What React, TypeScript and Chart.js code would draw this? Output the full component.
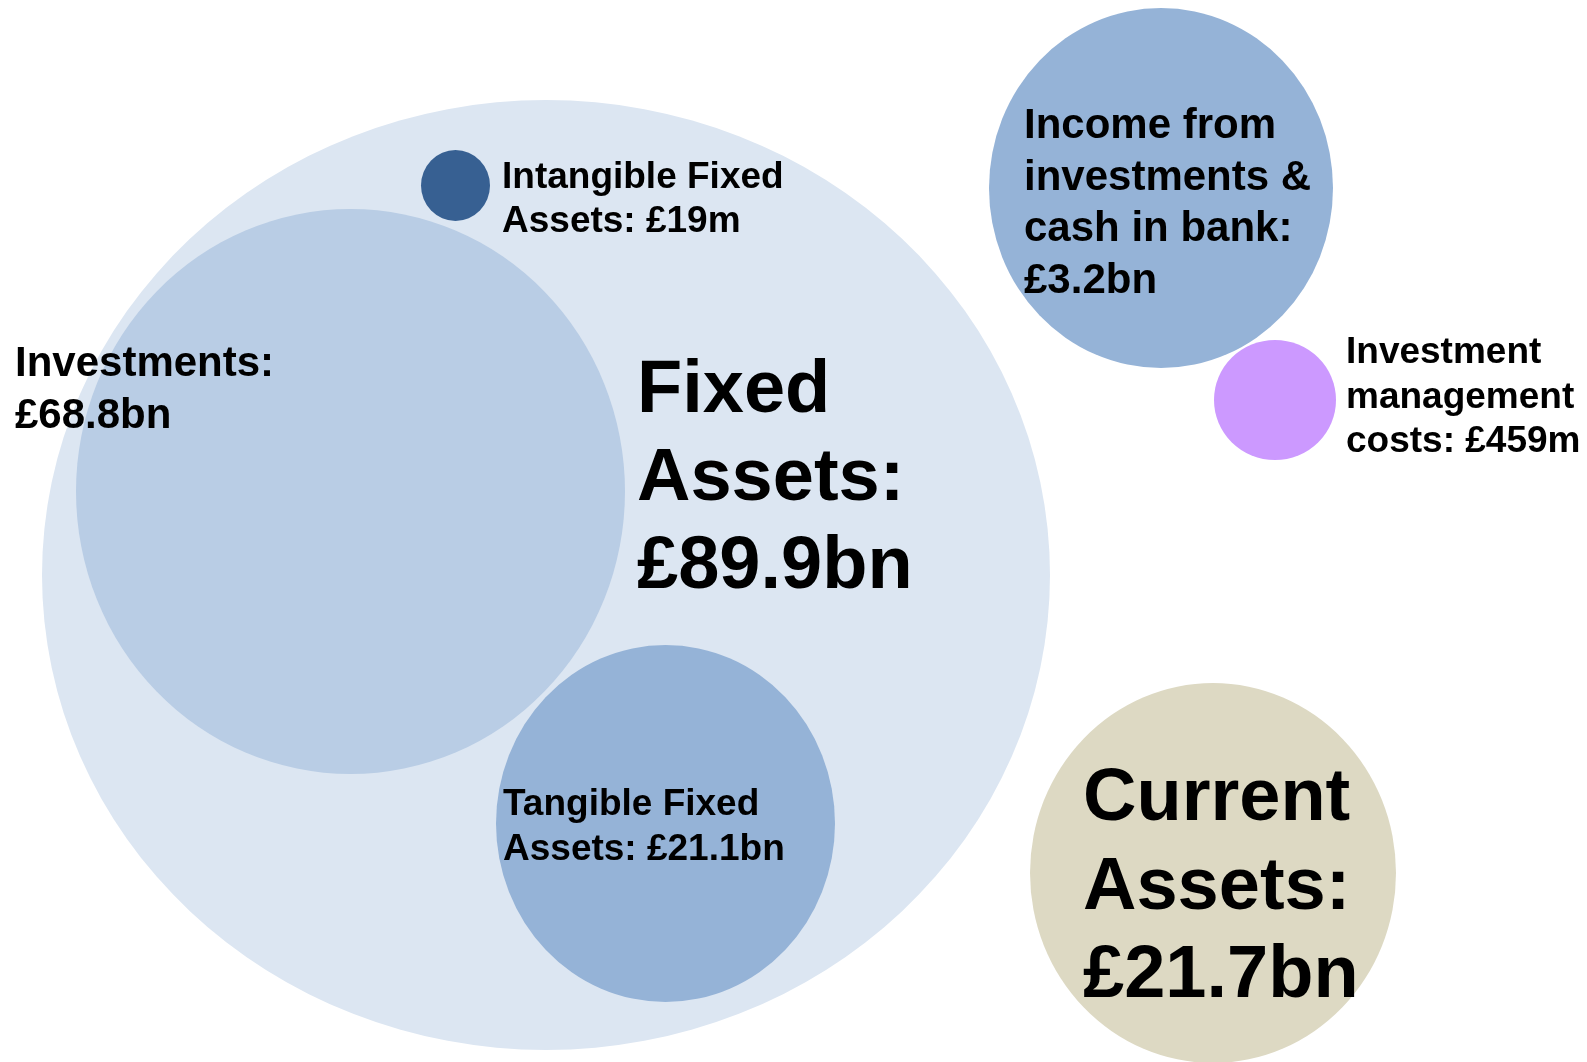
import React, { useEffect, useRef } from "react";
import { Chart, registerables } from "chart.js";

Chart.register(...registerables);

// ---- Data ----
const categories = [
  "Fixed Assets",
  "Investments",
  "Intangible Fixed Assets",
  "Tangible Fixed Assets",
  "Income from investments & cash in bank",
  "Investment management costs",
  "Current Assets",
];
const valueLabels = ["£89.9bn", "£68.8bn", "£19m", "£21.1bn", "£3.2bn", "£459m", "£21.7bn"];
// bubble centres and radii in the chart's own coordinate space (x right, y down)
const bubbleX = [546, 350.5, 455.5, 665.5, 1161, 1275, 1213];
const bubbleY = [575, 491.5, 185.5, 823.5, 188, 400, 873];
const bubbleRx = [504, 274.5, 34.5, 169.5, 172, 61, 183];
const bubbleRy = [475, 282.5, 35.5, 178.5, 180, 60, 190];

// ---- Styles / layout ----
const COLORS = ["#DCE6F2", "#B9CDE5", "#376092", "#95B3D7", "#95B3D7", "#CC99FF", "#DDD9C3"];
const LABEL_LAYOUT = [
  { x: 637, y: 412, size: 74, lh: 88, lines: ["Fixed", "Assets:", valueLabels[0]] },
  { x: 15, y: 376, size: 42, lh: 52, lines: ["Investments:", valueLabels[1]] },
  { x: 502, y: 188, size: 37, lh: 44, lines: ["Intangible Fixed", "Assets: " + valueLabels[2]] },
  { x: 503, y: 815, size: 37, lh: 45, lines: ["Tangible Fixed", "Assets: " + valueLabels[3]] },
  { x: 1024, y: 138, size: 42, lh: 51.7, lines: ["Income from", "investments &", "cash in bank:", valueLabels[4]] },
  { x: 1346, y: 363, size: 37, lh: 44.5, lines: ["Investment", "management", "costs: " + valueLabels[5]] },
  { x: 1083, y: 820, size: 74, lh: 88.5, lines: ["Current", "Assets:", valueLabels[6]] },
];
const FONT_FAMILY = '"Liberation Sans", Arial, Helvetica, sans-serif';
const W = 1587;
const H = 1062;

const ellipsePlugin = {
  id: "ellipseSquash",
  beforeDatasetDraw(chart: any, args: any) {
    const ds = chart.data.datasets[args.index];
    const el = args.meta.data[0];
    if (!el) return;
    const ctx = chart.ctx;
    ctx.save();
    ctx.translate(el.x, el.y);
    ctx.scale(1, ds.squash || 1);
    ctx.translate(-el.x, -el.y);
  },
  afterDatasetDraw(chart: any, args: any) {
    if (!args.meta.data[0]) return;
    chart.ctx.restore();
  },
};

const labelPlugin = {
  id: "bubbleLabels",
  afterDatasetsDraw(chart: any) {
    const ctx = chart.ctx;
    const xs = chart.scales.x;
    const ys = chart.scales.y;
    ctx.save();
    ctx.fillStyle = "#000000";
    ctx.textAlign = "left";
    ctx.textBaseline = "alphabetic";
    LABEL_LAYOUT.forEach((l) => {
      ctx.font = `bold ${l.size}px ${FONT_FAMILY}`;
      const px = xs.getPixelForValue(l.x);
      l.lines.forEach((line, i) => {
        const py = ys.getPixelForValue(l.y + i * l.lh);
        ctx.fillText(line, px, py);
      });
    });
    ctx.restore();
  },
};

export default function App() {
  const ref = useRef<HTMLCanvasElement | null>(null);
  useEffect(() => {
    if (!ref.current) return;
    const datasets = categories.map((c, i) => ({
      label: c,
      data: [{ x: bubbleX[i], y: bubbleY[i], r: bubbleRx[i] }],
      backgroundColor: COLORS[i],
      borderWidth: 0,
      hoverBorderWidth: 0,
      clip: false as any,
      squash: bubbleRy[i] / bubbleRx[i],
      order: categories.length - i,
    }));
    const chart = new Chart(ref.current, {
      type: "bubble",
      data: { datasets: datasets as any },
      options: {
        responsive: false,
        animation: false,
        events: [],
        layout: { padding: 0, autoPadding: false } as any,
        plugins: { legend: { display: false }, tooltip: { enabled: false } },
        scales: {
          x: { type: "linear", min: 0, max: W, display: false },
          y: { type: "linear", min: 0, max: H, reverse: true, display: false },
        },
      },
      plugins: [ellipsePlugin, labelPlugin],
    });
    return () => chart.destroy();
  }, []);
  return (
    <div style={{ position: "fixed", left: 0, top: 0, width: W, height: H, background: "#ffffff" }}>
      <canvas ref={ref} width={W} height={H} style={{ display: "block" }} />
    </div>
  );
}
